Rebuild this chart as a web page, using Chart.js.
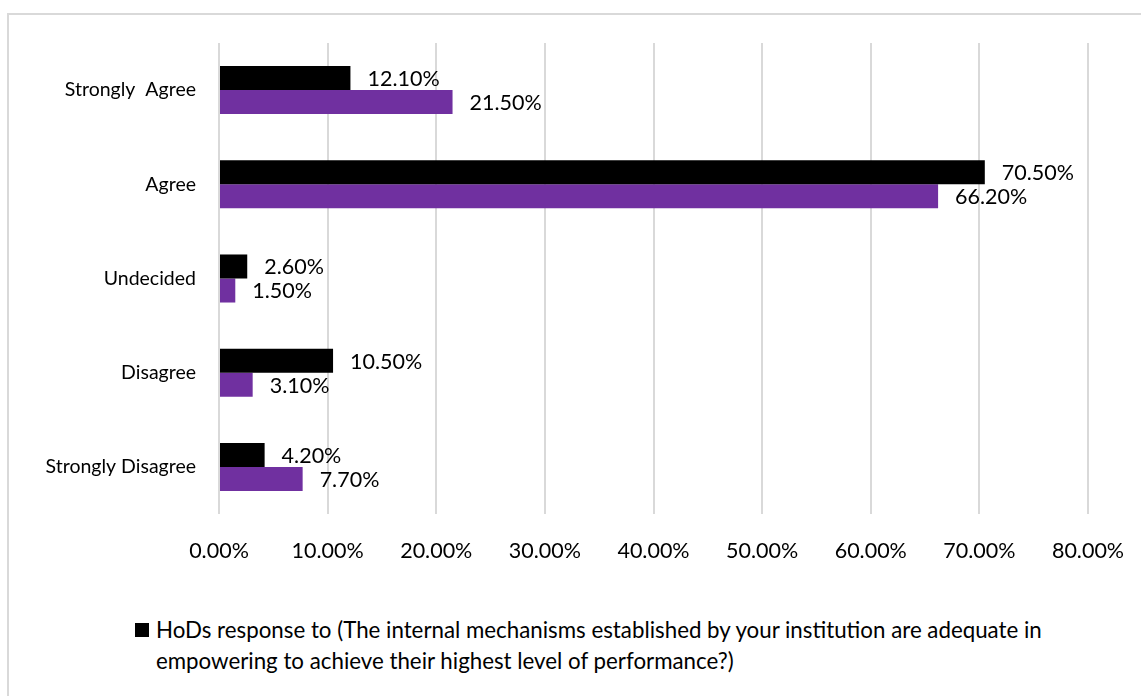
<!DOCTYPE html>
<html>
<head>
<meta charset="utf-8">
<script src="https://cdn.jsdelivr.net/npm/chart.js@4/dist/chart.umd.min.js"></script>
<style>
  html, body { margin: 0; padding: 0; background: #fff; overflow: hidden; }
  body { width: 1141px; height: 696px; position: relative; font-family: Lato, "Liberation Sans", sans-serif; }
  #frame { position: absolute; left: 7px; top: 13px; width: 1300px; height: 800px; border: 2px solid #d9d9d9; box-sizing: border-box; }
  #wrap { position: absolute; left: 0; top: 0; width: 1141px; height: 600px; }
  #legend { position: absolute; left: 135px; top: 614px; font-size: 22.3px; line-height: 31px; color: #000; }
  #legend .box { position: absolute; left: 0; top: 9px; width: 14px; height: 14px; background: #000; }
  #legend .txt { margin-left: 21px; white-space: nowrap; }
</style>
</head>
<body>
<div id="frame"></div>
<div id="wrap"><canvas id="c" width="1141" height="600"></canvas></div>
<div id="legend"><span class="box"></span><div class="txt">HoDs response to (The internal mechanisms established by your institution are adequate in<br>empowering to achieve their highest level of performance?)</div></div>
<script>
const categories = ["Strongly  Agree", "Agree", "Undecided", "Disagree", "Strongly Disagree"];
const hodsValues = [12.1, 70.5, 2.6, 10.5, 4.2];
const otherValues = [21.5, 66.2, 1.5, 3.1, 7.7];
const tickValues = [0, 10, 20, 30, 40, 50, 60, 70, 80];

const FAMILY = 'Lato, "Liberation Sans", sans-serif';
const NUM_FONT = { family: FAMILY, size: 21.5 };
const CAT_FONT = { family: FAMILY, size: 19.5 };

// writes each bar's value just past its end
const valueLabels = {
  id: 'valueLabels',
  afterDatasetsDraw(chart) {
    const ctx = chart.ctx;
    ctx.save();
    ctx.font = NUM_FONT.size + 'px ' + NUM_FONT.family;
    ctx.fillStyle = '#000';
    ctx.textAlign = 'left';
    ctx.textBaseline = 'middle';
    chart.data.datasets.forEach((ds, i) => {
      chart.getDatasetMeta(i).data.forEach((bar, j) => {
        ctx.fillText(ds.data[j].toFixed(2) + '%', bar.x + 17, bar.y + 1);
      });
    });
    ctx.restore();
  }
};

new Chart(document.getElementById('c'), {
  type: 'bar',
  data: {
    labels: categories,
    datasets: [
      { label: 'HoDs', data: hodsValues, backgroundColor: '#000000', categoryPercentage: 0.51, barPercentage: 1.0 },
      { label: 'Other', data: otherValues, backgroundColor: '#7030a0', categoryPercentage: 0.51, barPercentage: 1.0 }
    ]
  },
  options: {
    indexAxis: 'y',
    responsive: false,
    animation: false,
    layout: { padding: { top: 43, right: 53, left: 0, bottom: 0 } },
    plugins: { legend: { display: false }, tooltip: { enabled: false } },
    scales: {
      x: {
        min: 0, max: 80,
        afterBuildTicks(scale) { scale.ticks = tickValues.map(v => ({ value: v })); },
        afterFit(scale) { scale.height = 86; scale.paddingRight = 0; scale.paddingLeft = 0; },
        grid: { color: '#d9d9d9', lineWidth: 2, drawTicks: false },
        border: { display: false },
        ticks: { color: '#000', font: NUM_FONT, padding: 24, callback: v => v.toFixed(2) + '%' }
      },
      y: {
        afterFit(scale) { scale.width = 219; },
        grid: { display: false, drawTicks: false },
        border: { display: false },
        ticks: { color: '#000', font: CAT_FONT, padding: 23 }
      }
    }
  },
  plugins: [valueLabels]
});
</script>
</body>
</html>
